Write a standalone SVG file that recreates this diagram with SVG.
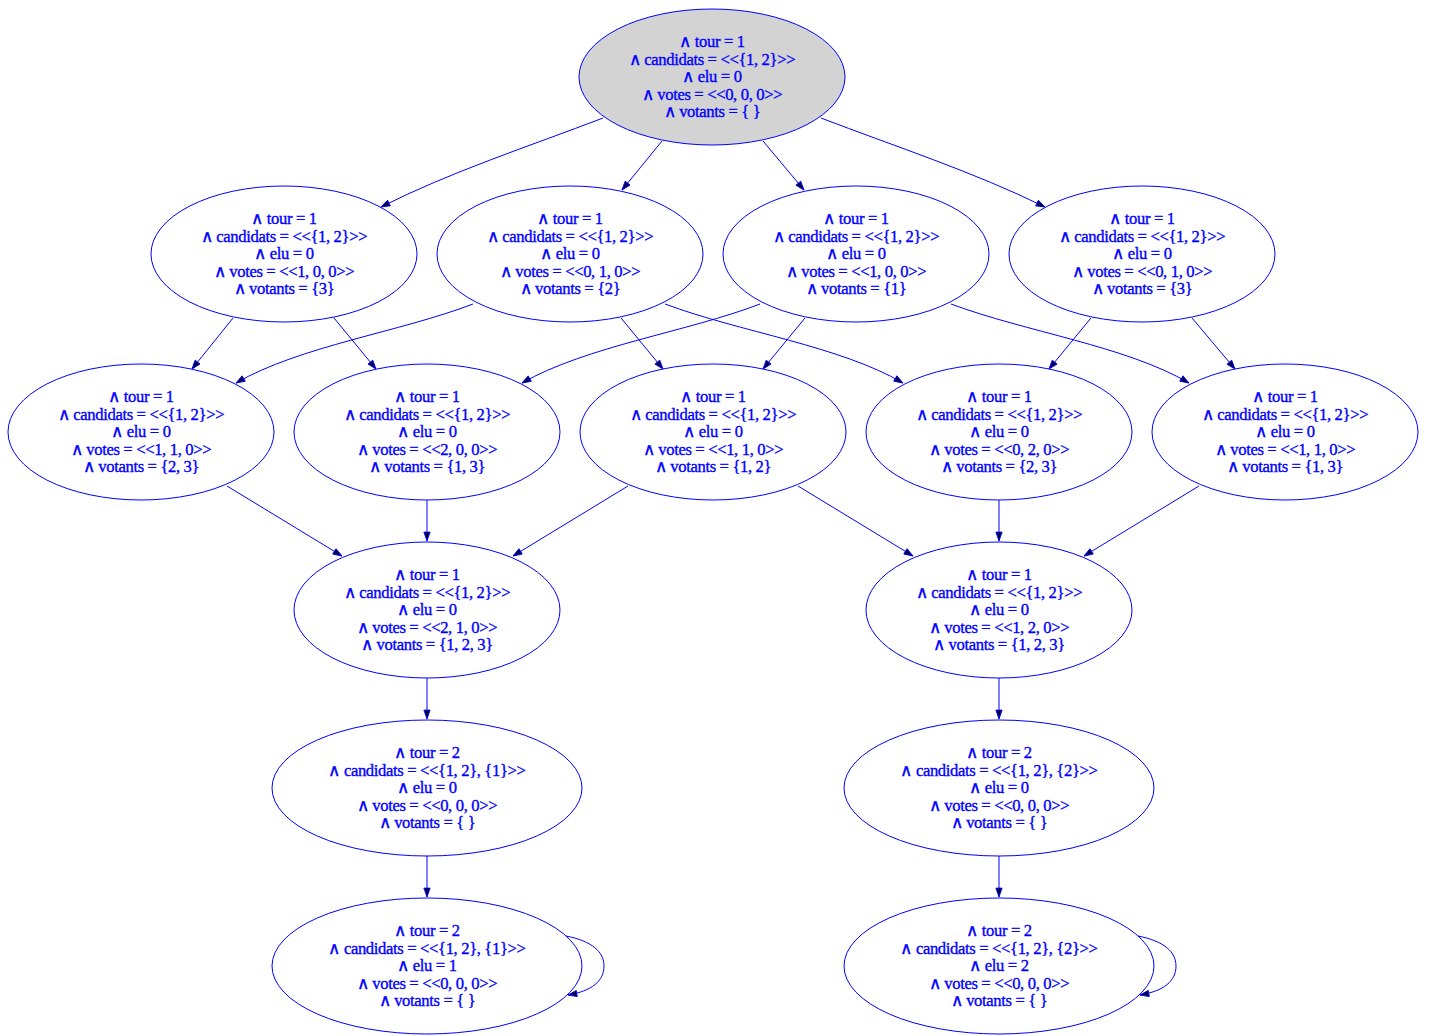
<svg xmlns="http://www.w3.org/2000/svg" width="1429" height="1036" viewBox="0 0 1429 1036">
<style>
.n ellipse{fill:none;stroke:#0000ff;stroke-width:1}
.n.init ellipse{fill:#d3d3d3}
.n text{font-family:"Liberation Serif","Times New Roman",serif;font-size:16.6px;letter-spacing:-0.35px;fill:#0000ff;stroke:#0000ff;stroke-width:0.35px;text-anchor:middle}
.e path{fill:none;stroke:#0000ff;stroke-width:1;marker-end:url(#ah)}
</style>
<defs>
<marker id="ah" markerUnits="userSpaceOnUse" markerWidth="11" markerHeight="8" refX="10" refY="3.5" orient="auto" viewBox="-1 -1 12 9">
<path d="M0,0 L10,3.5 L0,7 z" fill="#000040" stroke="#0000ff" stroke-width="1"/>
</marker>
</defs>
<rect width="1429" height="1036" fill="#ffffff"/>
<g class="e" id="edges">
<path d="M603,118 C530,146 450,172 381,207"/>
<path d="M662,141 L622,190"/>
<path d="M763,141 L804,190"/>
<path d="M821,118 C894,146 974,172 1045,207"/>
<path d="M233,318 L192,369"/>
<path d="M334,318 L376,369"/>
<path d="M473,304 C400,332 300,346 236,383"/>
<path d="M621,318 L663,369"/>
<path d="M665,304 C740,332 840,346 903,383"/>
<path d="M760,304 C687,332 587,346 522,383"/>
<path d="M805,318 L763,369"/>
<path d="M951,304 C1026,332 1126,346 1189,383"/>
<path d="M1091,318 L1049,369"/>
<path d="M1192,318 L1235,369"/>
<path d="M227,486 L342,556"/>
<path d="M427,500 L427,541"/>
<path d="M628,486 L513,556"/>
<path d="M798,486 L913,556"/>
<path d="M999,500 L999,541"/>
<path d="M1199,486 L1084,556"/>
<path d="M427,678 L427,719"/>
<path d="M999,678 L999,719"/>
<path d="M427,856 L427,897"/>
<path d="M999,856 L999,897"/>
<path d="M566,936 C592,941 604,952 604,966 C604,981 592,991 568,995"/>
<path d="M1138,936 C1164,941 1176,952 1176,966 C1176,981 1164,991 1140,995"/>
</g>
<g class="n init" id="s0"><ellipse cx="712" cy="77" rx="133" ry="68"/>
<text x="712" y="47">∧ tour = 1</text><text x="712" y="64.5">∧ candidats = &lt;&lt;{1, 2}&gt;&gt;</text><text x="712" y="82">∧ elu = 0</text><text x="712" y="99.5">∧ votes = &lt;&lt;0, 0, 0&gt;&gt;</text><text x="712" y="117">∧ votants = { }</text></g>
<g class="n" id="s1"><ellipse cx="284" cy="254" rx="133" ry="68"/>
<text x="284" y="224">∧ tour = 1</text><text x="284" y="241.5">∧ candidats = &lt;&lt;{1, 2}&gt;&gt;</text><text x="284" y="259">∧ elu = 0</text><text x="284" y="276.5">∧ votes = &lt;&lt;1, 0, 0&gt;&gt;</text><text x="284" y="294">∧ votants = {3}</text></g>
<g class="n" id="s2"><ellipse cx="570" cy="254" rx="133" ry="68"/>
<text x="570" y="224">∧ tour = 1</text><text x="570" y="241.5">∧ candidats = &lt;&lt;{1, 2}&gt;&gt;</text><text x="570" y="259">∧ elu = 0</text><text x="570" y="276.5">∧ votes = &lt;&lt;0, 1, 0&gt;&gt;</text><text x="570" y="294">∧ votants = {2}</text></g>
<g class="n" id="s3"><ellipse cx="856" cy="254" rx="133" ry="68"/>
<text x="856" y="224">∧ tour = 1</text><text x="856" y="241.5">∧ candidats = &lt;&lt;{1, 2}&gt;&gt;</text><text x="856" y="259">∧ elu = 0</text><text x="856" y="276.5">∧ votes = &lt;&lt;1, 0, 0&gt;&gt;</text><text x="856" y="294">∧ votants = {1}</text></g>
<g class="n" id="s4"><ellipse cx="1142" cy="254" rx="133" ry="68"/>
<text x="1142" y="224">∧ tour = 1</text><text x="1142" y="241.5">∧ candidats = &lt;&lt;{1, 2}&gt;&gt;</text><text x="1142" y="259">∧ elu = 0</text><text x="1142" y="276.5">∧ votes = &lt;&lt;0, 1, 0&gt;&gt;</text><text x="1142" y="294">∧ votants = {3}</text></g>
<g class="n" id="s5"><ellipse cx="141" cy="432" rx="133" ry="68"/>
<text x="141" y="402">∧ tour = 1</text><text x="141" y="419.5">∧ candidats = &lt;&lt;{1, 2}&gt;&gt;</text><text x="141" y="437">∧ elu = 0</text><text x="141" y="454.5">∧ votes = &lt;&lt;1, 1, 0&gt;&gt;</text><text x="141" y="472">∧ votants = {2, 3}</text></g>
<g class="n" id="s6"><ellipse cx="427" cy="432" rx="133" ry="68"/>
<text x="427" y="402">∧ tour = 1</text><text x="427" y="419.5">∧ candidats = &lt;&lt;{1, 2}&gt;&gt;</text><text x="427" y="437">∧ elu = 0</text><text x="427" y="454.5">∧ votes = &lt;&lt;2, 0, 0&gt;&gt;</text><text x="427" y="472">∧ votants = {1, 3}</text></g>
<g class="n" id="s7"><ellipse cx="713" cy="432" rx="133" ry="68"/>
<text x="713" y="402">∧ tour = 1</text><text x="713" y="419.5">∧ candidats = &lt;&lt;{1, 2}&gt;&gt;</text><text x="713" y="437">∧ elu = 0</text><text x="713" y="454.5">∧ votes = &lt;&lt;1, 1, 0&gt;&gt;</text><text x="713" y="472">∧ votants = {1, 2}</text></g>
<g class="n" id="s8"><ellipse cx="999" cy="432" rx="133" ry="68"/>
<text x="999" y="402">∧ tour = 1</text><text x="999" y="419.5">∧ candidats = &lt;&lt;{1, 2}&gt;&gt;</text><text x="999" y="437">∧ elu = 0</text><text x="999" y="454.5">∧ votes = &lt;&lt;0, 2, 0&gt;&gt;</text><text x="999" y="472">∧ votants = {2, 3}</text></g>
<g class="n" id="s9"><ellipse cx="1285" cy="432" rx="133" ry="68"/>
<text x="1285" y="402">∧ tour = 1</text><text x="1285" y="419.5">∧ candidats = &lt;&lt;{1, 2}&gt;&gt;</text><text x="1285" y="437">∧ elu = 0</text><text x="1285" y="454.5">∧ votes = &lt;&lt;1, 1, 0&gt;&gt;</text><text x="1285" y="472">∧ votants = {1, 3}</text></g>
<g class="n" id="s10"><ellipse cx="427" cy="610" rx="133" ry="68"/>
<text x="427" y="580">∧ tour = 1</text><text x="427" y="597.5">∧ candidats = &lt;&lt;{1, 2}&gt;&gt;</text><text x="427" y="615">∧ elu = 0</text><text x="427" y="632.5">∧ votes = &lt;&lt;2, 1, 0&gt;&gt;</text><text x="427" y="650">∧ votants = {1, 2, 3}</text></g>
<g class="n" id="s11"><ellipse cx="999" cy="610" rx="133" ry="68"/>
<text x="999" y="580">∧ tour = 1</text><text x="999" y="597.5">∧ candidats = &lt;&lt;{1, 2}&gt;&gt;</text><text x="999" y="615">∧ elu = 0</text><text x="999" y="632.5">∧ votes = &lt;&lt;1, 2, 0&gt;&gt;</text><text x="999" y="650">∧ votants = {1, 2, 3}</text></g>
<g class="n" id="s12"><ellipse cx="427" cy="788" rx="155" ry="68"/>
<text x="427" y="758">∧ tour = 2</text><text x="427" y="775.5">∧ candidats = &lt;&lt;{1, 2}, {1}&gt;&gt;</text><text x="427" y="793">∧ elu = 0</text><text x="427" y="810.5">∧ votes = &lt;&lt;0, 0, 0&gt;&gt;</text><text x="427" y="828">∧ votants = { }</text></g>
<g class="n" id="s13"><ellipse cx="999" cy="788" rx="155" ry="68"/>
<text x="999" y="758">∧ tour = 2</text><text x="999" y="775.5">∧ candidats = &lt;&lt;{1, 2}, {2}&gt;&gt;</text><text x="999" y="793">∧ elu = 0</text><text x="999" y="810.5">∧ votes = &lt;&lt;0, 0, 0&gt;&gt;</text><text x="999" y="828">∧ votants = { }</text></g>
<g class="n" id="s14"><ellipse cx="427" cy="966" rx="155" ry="68"/>
<text x="427" y="936">∧ tour = 2</text><text x="427" y="953.5">∧ candidats = &lt;&lt;{1, 2}, {1}&gt;&gt;</text><text x="427" y="971">∧ elu = 1</text><text x="427" y="988.5">∧ votes = &lt;&lt;0, 0, 0&gt;&gt;</text><text x="427" y="1006">∧ votants = { }</text></g>
<g class="n" id="s15"><ellipse cx="999" cy="966" rx="155" ry="68"/>
<text x="999" y="936">∧ tour = 2</text><text x="999" y="953.5">∧ candidats = &lt;&lt;{1, 2}, {2}&gt;&gt;</text><text x="999" y="971">∧ elu = 2</text><text x="999" y="988.5">∧ votes = &lt;&lt;0, 0, 0&gt;&gt;</text><text x="999" y="1006">∧ votants = { }</text></g>
</svg>
